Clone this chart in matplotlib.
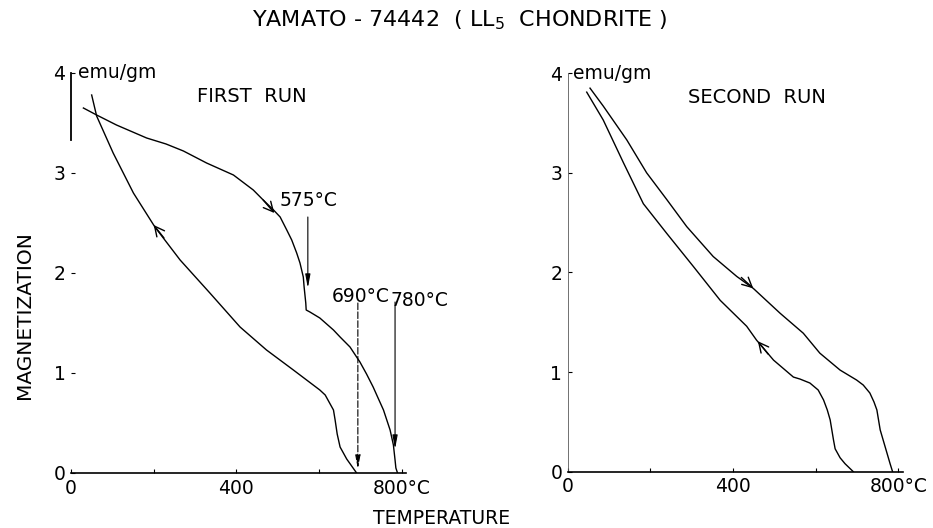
import matplotlib
matplotlib.use("Agg")
import matplotlib.pyplot as plt

# First run (heating, then cooling) - temperature in C, magnetization in emu/gm
heat1_t = [30, 62, 110, 183, 230, 272, 328, 393, 441, 465, 490, 506, 522, 534, 546,
           554, 562, 564, 566, 568, 569, 578, 602, 635, 651, 675, 699, 715, 731,
           744, 756, 764, 772, 780, 784, 786, 790]
heat1_m = [3.65, 3.58, 3.48, 3.35, 3.29, 3.22, 3.10, 2.98, 2.83, 2.73, 2.63, 2.56,
           2.43, 2.33, 2.20, 2.10, 1.96, 1.86, 1.78, 1.70, 1.63, 1.61, 1.55, 1.43,
           1.36, 1.26, 1.11, 0.99, 0.86, 0.74, 0.63, 0.53, 0.43, 0.28, 0.13, 0.05,
           0.0]
cool1_t = [50, 62, 102, 151, 203, 264, 336, 409, 473, 538, 602, 615, 627, 635, 639,
           644, 651, 667, 691]
cool1_m = [3.78, 3.57, 3.20, 2.80, 2.46, 2.13, 1.80, 1.46, 1.23, 1.03, 0.83, 0.78,
           0.69, 0.63, 0.53, 0.39, 0.26, 0.14, 0.0]

# Second run
heat2_t = [54, 86, 143, 191, 240, 288, 352, 409, 449, 514, 570, 610, 659, 699, 715,
           731, 741, 748, 752, 756, 768, 780, 786]
heat2_m = [3.85, 3.67, 3.33, 3.00, 2.73, 2.46, 2.16, 1.96, 1.84, 1.59, 1.39, 1.19,
           1.02, 0.92, 0.87, 0.79, 0.70, 0.62, 0.52, 0.42, 0.25, 0.08, 0.0]
cool2_t = [46, 86, 135, 183, 240, 304, 369, 433, 457, 498, 546, 562, 586, 606, 619,
           628, 635, 639, 643, 647, 659, 671, 691]
cool2_m = [3.81, 3.53, 3.10, 2.69, 2.39, 2.06, 1.72, 1.46, 1.32, 1.12, 0.95, 0.93,
           0.89, 0.82, 0.72, 0.62, 0.52, 0.42, 0.32, 0.23, 0.14, 0.08, 0.0]

xticks = [0, 200, 400, 600, 800]
xticklabels = ["0", "", "400", "", "800°C"]
yticks = [0, 1, 2, 3, 4]

plt.rcParams['font.family'] = ['DejaVu Sans']

fig = plt.figure(figsize=(9.33, 5.28), dpi=100)
ax1 = fig.add_axes([71/933, 55/528, 334.8/933, 400/528])
ax2 = fig.add_axes([567.7/933, 56.3/528, 334.8/933, 398.5/528])

def style(ax):
    ax.set_xlim(0, 810)
    ax.set_ylim(0, 4)
    for s in ("top", "right"):
        ax.spines[s].set_visible(False)
    ax.spines["bottom"].set_linewidth(1.2)
    ax.set_xticks(xticks)
    ax.set_xticklabels(xticklabels, fontsize=13.5)
    ax.set_yticks(yticks)
    ax.set_yticklabels([str(v) for v in yticks], fontsize=13.5)
    ax.tick_params(direction="in", length=3, width=0.8, pad=4)
    ax.patch.set_alpha(0)

def curve_arrow(ax, t0, m0, t1, m1):
    ax.annotate("", xy=(t1, m1), xytext=(t0, m0),
                arrowprops=dict(arrowstyle="->,head_length=0.7,head_width=0.35",
                                lw=1.0, color="black", shrinkA=0, shrinkB=0))

def label_arrow(ax, t, m_top, m_bot, ls="-"):
    ax.annotate("", xy=(t, m_bot), xytext=(t, m_top),
                arrowprops=dict(arrowstyle="-|>,head_length=0.8,head_width=0.15",
                                lw=0.8, color="black", linestyle=ls,
                                shrinkA=0, shrinkB=0))

# ---- first run
style(ax1)
ax1.spines["left"].set_bounds(3.33, 4)
ax1.spines["left"].set_linewidth(1.3)
ax1.plot(heat1_t, heat1_m, color="black", lw=1.0)
ax1.plot(cool1_t, cool1_m, color="black", lw=1.0)
curve_arrow(ax1, 465, 2.73, 492, 2.60)
curve_arrow(ax1, 225, 2.35, 200, 2.48)
ax1.text(17, 4.0, "emu/gm", fontsize=13.5, ha="left", va="center")
ax1.text(437, 3.76, "FIRST  RUN", fontsize=14, ha="center", va="center")
ax1.text(574, 2.73, "575°C", fontsize=13.5, ha="center", va="center")
label_arrow(ax1, 573, 2.56, 1.85)
ax1.text(700, 1.77, "690°C", fontsize=13.5, ha="center", va="center")
label_arrow(ax1, 694, 1.70, 0.04, ls=(0, (6, 2)))
ax1.text(843, 1.72, "780°C", fontsize=13.5, ha="center", va="center", clip_on=False)
label_arrow(ax1, 784, 1.71, 0.24)

# ---- second run
style(ax2)
ax2.spines["left"].set_linewidth(0.6)
ax2.spines["left"].set_color("0.35")
ax2.plot(heat2_t, heat2_m, color="black", lw=1.0)
ax2.plot(cool2_t, cool2_m, color="black", lw=1.0)
curve_arrow(ax2, 420, 1.95, 449, 1.84)
curve_arrow(ax2, 485, 1.18, 460, 1.31)
ax2.text(13, 4.0, "emu/gm", fontsize=13.5, ha="left", va="center")
ax2.text(458, 3.76, "SECOND  RUN", fontsize=14, ha="center", va="center")

fig.text(460/933, 1 - 20/528, "YAMATO - 74442  ( LL$_5$  CHONDRITE )",
         fontsize=16, ha="center", va="center")
fig.text(25/933, 1 - 315/528, "MAGNETIZATION", fontsize=14.5, rotation=90,
         ha="center", va="center")
fig.text(442/933, 1 - 518/528, "TEMPERATURE", fontsize=13.5, ha="center", va="center")

fig.savefig("out.png", dpi=100)
